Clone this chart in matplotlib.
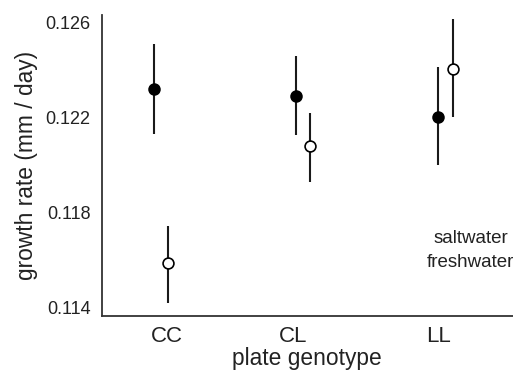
import numpy as np
import matplotlib
matplotlib.use("Agg")
import matplotlib.pyplot as plt

plt.rcParams['font.family'] = ['Liberation Sans', 'DejaVu Sans']

# genotype categories and tick label positions
genotypes = ['CC', 'CL', 'LL']
tick_pos = [1.09, 1.98, 3.0]
xpos = np.array([1, 2, 3])

# saltwater (filled) means and error bar ends
salt_mean = [0.1232, 0.1229, 0.12205]
salt_lo = [0.12131, 0.12128, 0.12002]
salt_hi = [0.12509, 0.1246, 0.12415]

# freshwater (open) means and error bar ends
fresh_mean = [0.11589, 0.12079, 0.12405]
fresh_lo = [0.11421, 0.11928, 0.12205]
fresh_hi = [0.11746, 0.12219, 0.12614]

fig = plt.figure(figsize=(5.13, 3.74), dpi=100)
ax = fig.add_axes([0.198, 0.155, 0.802, 0.805])

def draw(x, m, lo, hi, face):
    m = np.array(m)
    yerr = [m - np.array(lo), np.array(hi) - m]
    ax.errorbar(x, m, yerr=yerr, fmt='o', color='#1a1a1a', ecolor='#1a1a1a',
                elinewidth=1.5, capsize=0, ms=7.8, mfc=face, mec='black',
                mew=1.2, zorder=3)

draw(xpos, salt_mean, salt_lo, salt_hi, 'black')
draw(xpos + 0.1, fresh_mean, fresh_lo, fresh_hi, 'white')

ax.text(3.228, 0.11691, 'saltwater', ha='center', va='center', fontsize=13.5, color='#222222')
ax.text(3.228, 0.11590, 'freshwater', ha='center', va='center', fontsize=13.5, color='#222222')

ax.set_xlim(0.632, 3.525)
ax.set_ylim(0.11366, 0.12632)
ax.set_xticks(tick_pos)
ax.set_xticklabels(genotypes)
ax.set_yticks([0.114, 0.118, 0.122, 0.126])
ax.set_yticklabels(['0.114', '0.118', '0.122', '0.126'])
ax.tick_params(length=0, colors='#222222')
ax.tick_params(axis='x', labelsize=16, pad=7)
ax.tick_params(axis='y', labelsize=13, pad=8)
for s in ['top', 'right']:
    ax.spines[s].set_visible(False)
for s in ['left', 'bottom']:
    ax.spines[s].set_color('#333333')
    ax.spines[s].set_linewidth(1.3)
ax.set_xlabel('plate genotype', fontsize=16.4, color='#222222', labelpad=0)
ax.set_ylabel('growth rate (mm / day)', fontsize=16.4, color='#222222', labelpad=5)

fig.savefig('out.png', dpi=100)
